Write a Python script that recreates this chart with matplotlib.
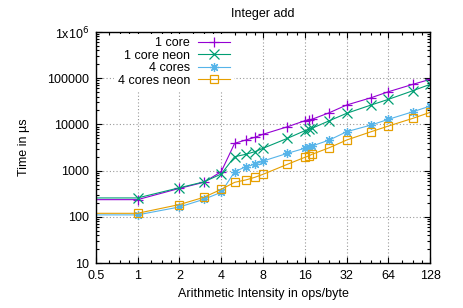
import numpy as np
import matplotlib
matplotlib.use("Agg")
import matplotlib.pyplot as plt
from matplotlib.ticker import FixedLocator, FixedFormatter, LogLocator, NullFormatter

plt.rcParams["font.family"] = ["Liberation Sans", "DejaVu Sans"]

# ops/byte and run time in microseconds
intensity = [0.25, 1, 2, 3, 4, 5, 6, 7, 8, 12, 16, 17, 18, 24, 32, 48, 64, 96, 128]
one_core = [235, 235, 412, 558, 946, 3900, 4590, 5260, 6110, 8900, 12000, 12600, 12900,
            17900, 26300, 37800, 51000, 73800, 94600]
one_core_neon = [256, 256, 425, 570, 843, 2000, 2250, 2570, 3040, 5000, 7300, 7800, 8240,
                 12000, 17400, 26300, 34900, 53700, 73800]
four_cores = [110, 110, 163, 239, 339, 946, 1210, 1370, 1610, 2370, 3040, 3190, 3400,
              4590, 6950, 9700, 12900, 18800, 25000]
four_cores_neon = [119, 119, 184, 264, 393, 558, 627, 717, 831, 1370, 1940, 2070, 2250,
                   3130, 4590, 6950, 9230, 13550, 18300]

xticks = [0.5, 1, 2, 4, 8, 16, 32, 64, 128]
xticklabels = ["0.5", "1", "2", "4", "8", "16", "32", "64", "128"]
yticks = [10, 100, 1000, 10000, 100000, 1000000]
yticklabels = ["10", "100", "1000", "10000", "100000", r"1x10$^{6}$"]

series = [
    ("1 core", one_core, "#9400d3", "+"),
    ("1 core neon", one_core_neon, "#009e73", "x"),
    ("4 cores", four_cores, "#56b4e9", (8, 2, 0)),
    ("4 cores neon", four_cores_neon, "#e69f00", "s"),
]

fig = plt.figure(figsize=(4.64, 3.08), dpi=100)
ax = fig.add_axes([0.2063, 0.1461, 0.7211, 0.7500])

for label, vals, col, mk in series:
    face = "none" if mk == "s" else col
    ax.plot(intensity, vals, color=col, lw=0.8, marker=mk, markersize=6.5 if mk != "s" else 6,
            markerfacecolor=face, markeredgecolor=col, markeredgewidth=0.9, label=label,
            markevery=slice(1, None))

ax.set_xscale("log", base=2)
ax.set_yscale("log")
ax.set_xlim(0.5, 128)
ax.set_ylim(10, 1000000)

ax.xaxis.set_major_locator(FixedLocator(xticks))
ax.xaxis.set_major_formatter(FixedFormatter(xticklabels))
minor_x = [t * s for t in xticks[:-1] for s in (1.25, 1.5, 1.75)]
ax.xaxis.set_minor_locator(FixedLocator(minor_x))
ax.xaxis.set_minor_formatter(NullFormatter())
ax.yaxis.set_major_locator(FixedLocator(yticks))
ax.yaxis.set_major_formatter(FixedFormatter(yticklabels))
ax.yaxis.set_minor_locator(LogLocator(base=10, subs=np.arange(2, 10)))
ax.yaxis.set_minor_formatter(NullFormatter())

ax.tick_params(which="both", direction="in", top=True, right=True, labelsize=9, color="black")
ax.tick_params(which="major", length=4, width=0.8, pad=5)
ax.tick_params(which="minor", length=2, width=0.8)
for sp in ax.spines.values():
    sp.set_linewidth(1.0)

ax.grid(True, which="major", color="#999999", linestyle=(0, (1, 2)), lw=0.8)
ax.set_axisbelow(True)

ax.set_title("Integer add", fontsize=9, pad=11)
ax.set_xlabel("Arithmetic Intensity in ops/byte", fontsize=9, labelpad=4)
ax.set_ylabel("Time in µs", fontsize=9, labelpad=12)

leg = ax.legend(loc="upper right", bbox_to_anchor=(234 / 464, 1 - 33.5 / 308),
                bbox_transform=fig.transFigure, markerfirst=False, frameon=True,
                fontsize=9, handlelength=2.6, handletextpad=0.6, labelspacing=0.04,
                borderpad=0.3, borderaxespad=0, fancybox=False)
leg.get_frame().set_facecolor("white")
leg.get_frame().set_edgecolor("none")
leg.get_frame().set_alpha(1)

fig.savefig("out.png", dpi=100)
